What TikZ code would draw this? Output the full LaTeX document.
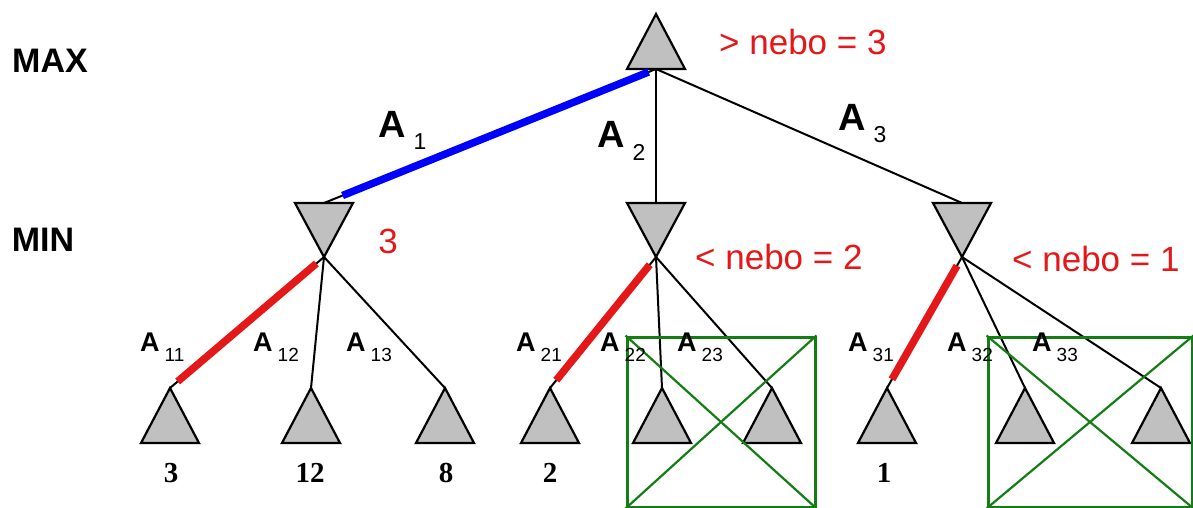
\documentclass[tikz,border=0pt]{standalone}
\usepackage{fontspec}
\setmainfont{Liberation Sans}
\newfontfamily\valfont{Liberation Serif}
\definecolor{grisTri}{RGB}{192,192,192}
\definecolor{rojoPoda}{RGB}{228,24,24}
\definecolor{verdeCaja}{RGB}{20,125,20}
\newcommand{\subchico}{\fontsize{19}{19}\selectfont\mdseries}
\newcommand{\subgrande}{\fontsize{23}{23}\selectfont\mdseries}

\begin{document}
\begin{tikzpicture}[x=1pt,y=-1pt,
  tri/.style={draw=black, line width=2.2pt, fill=grisTri},
  arista/.style={black, line width=2pt},
  elegida/.style={line width=7.5pt, shorten <=10pt, shorten >=10pt},
  nivel/.style={font={\fontsize{34}{36}\selectfont\bfseries}, inner sep=0pt},
  valor/.style={text=rojoPoda, font={\fontsize{35}{38}\selectfont}, inner sep=0pt},
  etq/.style={font={\fontsize{27}{30}\selectfont\bfseries}, inner sep=0pt, anchor=base west},
  etqg/.style={font={\fontsize{38}{42}\selectfont\bfseries}, inner sep=0pt, anchor=base west},
  hoja/.style={font={\valfont\fontsize{29}{30}\selectfont\bfseries}, inner sep=0pt},
  caja/.style={draw=verdeCaja, line width=3pt, inner sep=0pt}]

  \useasboundingbox (0,0) rectangle (1193,508);

  % Raiz MAX
  \draw[tri] (656,14) -- ++(29,55) -- ++(-58,0) -- cycle;
  \coordinate (raiz) at (656,69);

  % Nodos MIN (triangulos invertidos)
  \foreach \n/\x in {m1/324, m2/656, m3/962}{
    \draw[tri] (\x-29,203) -- ++(58,0) -- ++(-29,54) -- cycle;
    \coordinate (\n t) at (\x,203);
    \coordinate (\n) at (\x,257);
  }

  % Hojas
  \foreach \n/\x in {h11/170, h12/311, h13/445, h21/550, h22/662, h23/772, h31/887, h32/1025, h33/1161}{
    \draw[tri] (\x,388) -- ++(29,55) -- ++(-58,0) -- cycle;
    \coordinate (\n) at (\x,388);
  }

  % Aristas
  \foreach \a/\b in {raiz/m1t, raiz/m2t, raiz/m3t,
                     m1/h11, m1/h12, m1/h13,
                     m2/h21, m2/h22, m2/h23,
                     m3/h31, m3/h32, m3/h33}{
    \draw[arista] (\a) -- (\b);
  }

  % Jugada elegida y mejores respuestas
  \draw[blue, line width=7.5pt, shorten <=8pt, shorten >=20pt] (raiz) -- (m1t);
  \draw[rojoPoda, elegida] (m1) -- (h11);
  \draw[rojoPoda, elegida] (m2) -- (h21);
  \draw[rojoPoda, elegida] (m3) -- (h31);

  % Ramas podadas
  \node[caja, minimum width=188pt, minimum height=170pt] (poda2) at (721,422) {};
  \node[caja, minimum width=204pt, minimum height=170pt] (poda3) at (1090,422) {};
  \foreach \c in {poda2, poda3}{
    \draw[verdeCaja, line width=2.2pt] (\c.north west) -- (\c.south east)
                                       (\c.south west) -- (\c.north east);
  }

  % Niveles
  \node[nivel] (max) at (50,61) {MAX};
  \node[nivel] (min) at (43,240) {MIN};

  % Valores
  \node[valor, anchor=west] (v0) at (719,42) {> nebo = 3};
  \node[valor] (v1) at (388,241) {3};
  \node[valor, anchor=west] (v2) at (695,257) {< nebo = 2};
  \node[valor, anchor=west] (v3) at (1012,259) {< nebo = 1};

  % Etiquetas de jugadas
  \node[etqg] (a1) at (378,137) {A\hspace{8pt}\raisebox{-13pt}{\subgrande 1}};
  \node[etqg] (a2) at (597,147) {A\hspace{8pt}\raisebox{-13pt}{\subgrande 2}};
  \node[etqg] (a3) at (838,130) {A\hspace{8pt}\raisebox{-13pt}{\subgrande 3}};
  \foreach \n/\x/\s in {a11/140/11, a12/253/12, a13/346/13,
                        a21/516/21, a22/600/22, a23/677/23,
                        a31/848/31, a32/947/32, a33/1032/33}{
    \node[etq] (\n) at (\x,351) {A\hspace{5pt}\raisebox{-10pt}{\subchico\s}};
  }

  % Valores de las hojas
  \foreach \n/\x/\v in {t11/171/3, t12/310/12, t13/446/8, t21/550/2, t31/884/1}{
    \node[hoja] (\n) at (\x,473) {\v};
  }

\end{tikzpicture}
\end{document}
